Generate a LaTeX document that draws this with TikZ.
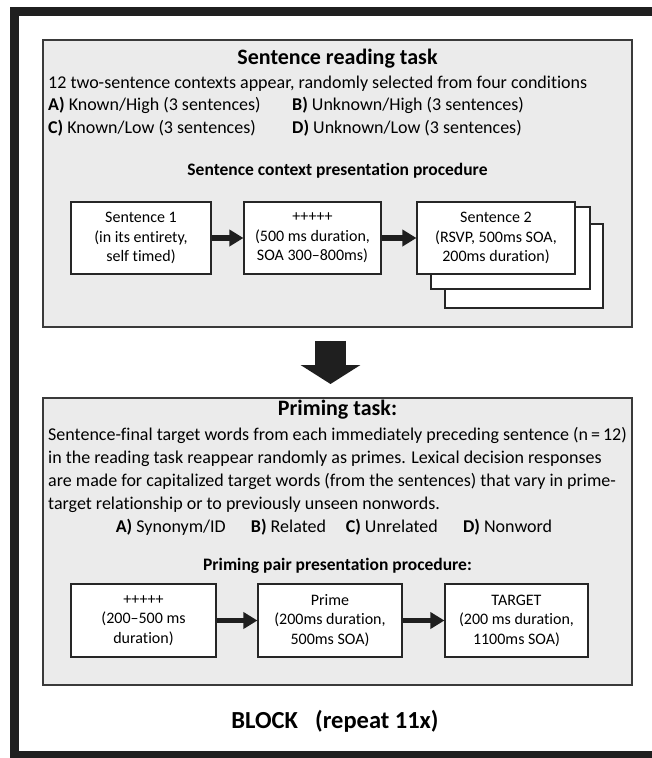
\documentclass[tikz,border=0pt]{standalone}
\usepackage{fontspec}
\setmainfont[Ligatures=NoCommon]{Carlito}
\usetikzlibrary{arrows.meta}
\definecolor{panelgray}{HTML}{EBEBEB}
\definecolor{edgegray}{HTML}{3A3A3A}
\definecolor{framegray}{HTML}{1F1F1F}
\tikzset{
    task-panel/.style = {draw=edgegray, fill=panelgray, line width=1.6pt, rectangle, minimum width=589pt, minimum height=287pt, inner sep=0pt},
    step-box/.style = {draw=black!85, fill=white, line width=1.1pt, rectangle, align=center, inner sep=0pt, font=\fontsize{16}{19.5}\selectfont},
    panel-title/.style = {font=\fontsize{22}{26}\selectfont\bfseries, inner sep=0pt},
    proc-title/.style = {font=\fontsize{17.5}{20}\selectfont\bfseries, inner sep=0pt},
    body-text/.style = {font=\fontsize{18}{23}\selectfont, inner sep=0pt, anchor=west, align=left},
    flow-arrow/.style = {draw=framegray, line width=5.5pt, -{Triangle[length=14pt, width=16pt]}},
    block-arrow/.style = {draw=framegray, fill=framegray, line width=31pt, -{Triangle[length=19pt, width=59pt]}},
}

\begin{document}
\begin{tikzpicture}[x=1pt, y=-1pt]
\useasboundingbox (0,0) rectangle (652,758);
\clip (0,0) rectangle (652,758);
\draw[line width=9.5pt, framegray] (14.5,11.5) rectangle (690,755.5);

% sentence reading task
\node[task-panel] (reading) at (337.5,183.5) {};
\node[panel-title] (reading-title) at (337.5,59) {Sentence reading task};
\node[body-text] (reading-intro) at (48,84) {12 two-sentence contexts appear, randomly selected from four conditions};
\node[body-text] (cond-a) at (48,105) {\textbf{A)} Known/High (3 sentences)};
\node[body-text] (cond-b) at (292,105) {\textbf{B)} Unknown/High (3 sentences)};
\node[body-text] (cond-c) at (48,128) {\textbf{C)} Known/Low (3 sentences)};
\node[body-text] (cond-d) at (292,128) {\textbf{D)} Unknown/Low (3 sentences)};
\node[proc-title] (reading-proc) at (337.5,171) {Sentence context presentation procedure};

\node[step-box, minimum width=140pt, minimum height=72pt] (sent1) at (141,238) {Sentence 1\\(in its entirety,\\self timed)};
\node[step-box, minimum width=137pt, minimum height=72pt] (fix1) at (312.5,238) {+++++\\(500 ms duration,\\SOA 300--800ms)};
\node[step-box, minimum width=158pt, minimum height=84pt] (sent2-back2) at (524,266) {};
\node[step-box, minimum width=159pt, minimum height=82pt] (sent2-back1) at (510.5,248) {};
\node[step-box, minimum width=158pt, minimum height=72pt] (sent2) at (496,238) {Sentence 2\\(RSVP, 500ms SOA,\\200ms duration)};
\draw[flow-arrow] (sent1) -- (fix1);
\draw[flow-arrow] (fix1) -- (sent2);

% block arrow
\draw[block-arrow] ([xshift=-7pt, yshift=-13pt]reading.south) -- ([xshift=-7pt, yshift=14pt]reading.south |- 0,398);

% priming task
\node[task-panel] (priming) at (337.5,541.5) {};
\node[panel-title] (priming-title) at (337.5,410) {Priming task:};
\node[body-text] (priming-intro) at (48,469.5) {Sentence-final target words from each immediately preceding sentence (n\,=\,12)\\
in the reading task reappear randomly as primes. Lexical decision responses\\
are made for capitalized target words (from the sentences) that vary in prime-\\
target relationship or to previously unseen nonwords.};
\node[body-text, anchor=center] (priming-cond) at (334,527) {\textbf{A)} Synonym/ID\hspace{1.4em}\textbf{B)} Related\hspace{1.1em}\textbf{C)} Unrelated\hspace{1.4em}\textbf{D)} Nonword};
\node[proc-title] (priming-proc) at (337.5,566) {Priming pair presentation procedure:};

\node[step-box, minimum width=145pt, minimum height=73pt] (fix2) at (143.5,620.5) {+++++\\(200--500 ms\\duration)};
\node[step-box, minimum width=144pt, minimum height=73pt] (prime) at (330,620.5) {Prime\\(200ms duration,\\500ms SOA)};
\node[step-box, minimum width=143pt, minimum height=73pt] (target) at (516.5,620.5) {TARGET\\(200 ms duration,\\1100ms SOA)};
\draw[flow-arrow] (fix2) -- (prime);
\draw[flow-arrow] (prime) -- (target);

\node[font=\fontsize{24.5}{28}\selectfont\bfseries, inner sep=0pt] (block-label) at (335,721) {BLOCK\hspace{0.7em}(repeat 11x)};
\end{tikzpicture}
\end{document}
